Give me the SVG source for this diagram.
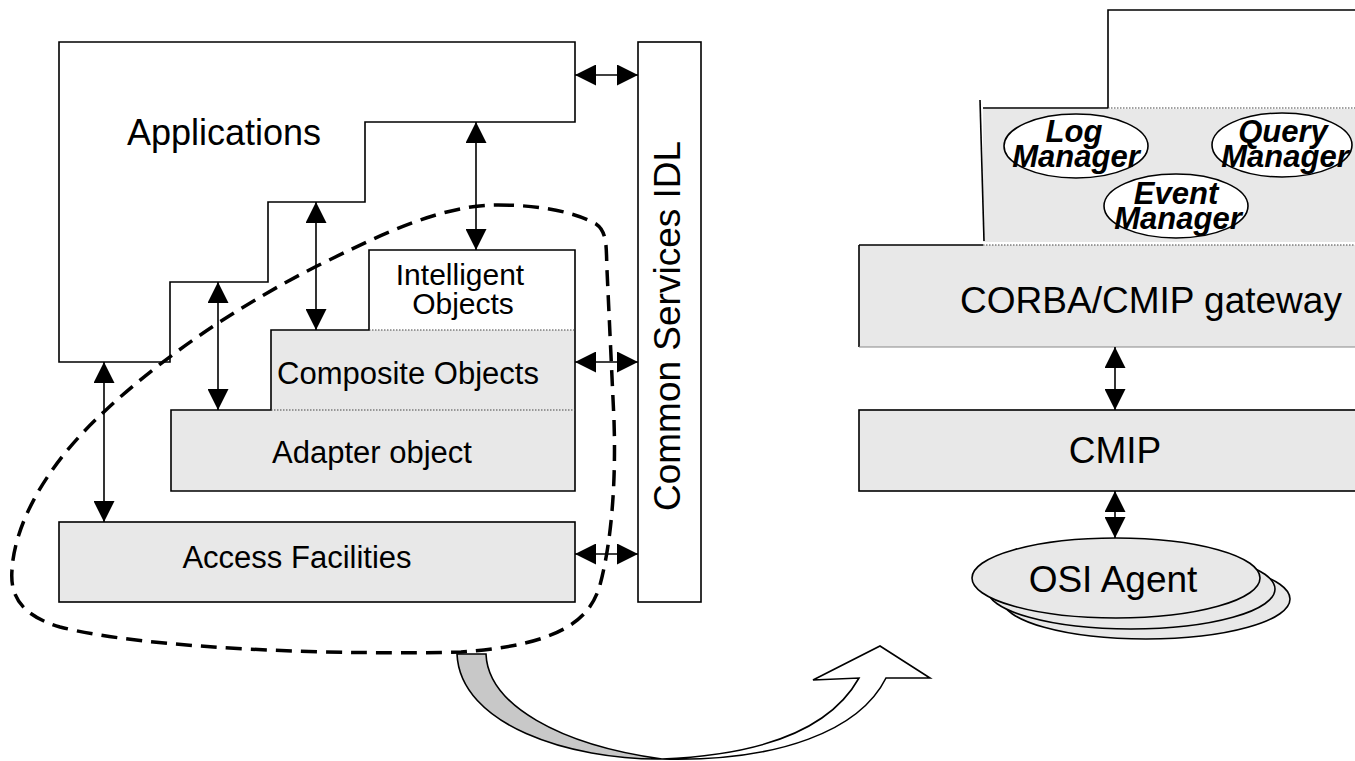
<svg xmlns="http://www.w3.org/2000/svg" width="1355" height="761" viewBox="0 0 1355 761">
<defs>
<style>
.ln{stroke:#000;stroke-width:1.6;fill:none}
.box{stroke:#000;stroke-width:1.6}
.gray{fill:#e8e8e8}
.dot{stroke:#444;stroke-width:1.2;stroke-dasharray:1.5 1.5;fill:none}
.t{font-family:"Liberation Sans",Arial,sans-serif;fill:#000}
.m{font-family:"Liberation Sans",Arial,sans-serif;font-weight:bold;font-style:italic;font-size:31px;text-anchor:middle}
.arr{stroke:#000;stroke-width:1.6;fill:none;marker-start:url(#ah);marker-end:url(#ah)}
</style>
<marker id="ah" markerUnits="userSpaceOnUse" markerWidth="21" markerHeight="21" viewBox="0 0 21 21" refX="21" refY="10.5" orient="auto-start-reverse">
<path d="M0,0 L21,10.5 L0,21 Z" fill="#000"/>
</marker>
</defs>
<rect width="1355" height="761" fill="#fff"/>

<g id="applications">
<path class="box" fill="#fff" d="M59,42 H575 V122 H365 V202 H268 V282 H170 V362 H59 Z"/>
<text class="t" x="127" y="145" font-size="36">Applications</text>
</g>

<g id="common-services">
<rect class="box" fill="#fff" x="638" y="42" width="63" height="560"/>
<text class="t" font-size="37" text-anchor="middle" transform="translate(680,326) rotate(-90)">Common Services IDL</text>
</g>

<g id="object-stack">
<path class="gray" d="M171,410 H271 V330 H575 V491 H171 Z"/>
<rect fill="#fff" x="369" y="250" width="206" height="80"/>
<path class="box" fill="none" d="M171,410 H271 V330 H369 V250 H575 V491 H171 Z"/>
<line class="dot" x1="369" y1="330" x2="575" y2="330"/>
<line class="dot" x1="271" y1="410" x2="575" y2="410"/>
</g>
<g id="intelligent-objects">
<text class="t" x="460" y="285" font-size="30" text-anchor="middle">Intelligent</text>
<text class="t" x="463" y="314" font-size="30" text-anchor="middle">Objects</text>
</g>
<g id="composite-objects">
<text class="t" x="408" y="384" font-size="31" text-anchor="middle">Composite Objects</text>
</g>
<g id="adapter-object">
<text class="t" x="372" y="463" font-size="31" text-anchor="middle">Adapter object</text>
</g>

<g id="access-facilities">
<rect class="box gray" x="59" y="522" width="516" height="80"/>
<text class="t" x="297" y="568" font-size="31" text-anchor="middle">Access Facilities</text>
</g>

<g id="managers-layer">
<rect class="gray" x="983" y="109" width="372" height="133"/>
<path class="ln" d="M1108,108 V10 H1355"/>
<line class="ln" x1="983" y1="108" x2="1108" y2="108"/>
<line class="dot" x1="1108" y1="108" x2="1355" y2="108"/>
<line class="ln" x1="980" y1="100" x2="984" y2="241"/>
</g>
<g id="log-manager">
<ellipse cx="1076" cy="146" rx="72" ry="32" fill="#fff" stroke="#000" stroke-width="1.6"/>
<text class="m" x="1074" y="142">Log</text>
<text class="m" x="1076" y="167">Manager</text>
</g>
<g id="query-manager">
<ellipse cx="1282" cy="145" rx="70" ry="32" fill="#fff" stroke="#000" stroke-width="1.6"/>
<text class="m" x="1283" y="142">Query</text>
<text class="m" x="1285" y="167">Manager</text>
</g>
<g id="event-manager">
<ellipse cx="1176" cy="206" rx="72" ry="32" fill="#fff" stroke="#000" stroke-width="1.6"/>
<text class="m" x="1176" y="204">Event</text>
<text class="m" x="1178" y="229">Manager</text>
</g>

<g id="gateway">
<rect class="gray" x="859" y="245" width="496" height="102"/>
<line class="ln" x1="859" y1="245" x2="983" y2="245"/>
<line class="dot" x1="983" y1="245" x2="1355" y2="245"/>
<line class="ln" x1="859" y1="245" x2="859" y2="347"/>
<line x1="859" y1="347" x2="1355" y2="347" stroke="#888" stroke-width="1.2"/>
<text class="t" x="1151" y="313" font-size="37" text-anchor="middle">CORBA/CMIP gateway</text>
</g>

<g id="cmip">
<rect class="box gray" x="859" y="410" width="500" height="81"/>
<text class="t" x="1115" y="463" font-size="37" text-anchor="middle">CMIP</text>
</g>

<g id="osi-agent">
<ellipse cx="1146" cy="599" rx="144" ry="40" class="box gray"/>
<ellipse cx="1131" cy="589" rx="144" ry="40" class="box gray"/>
<ellipse cx="1116" cy="578" rx="144" ry="40" class="box gray"/>
<text class="t" x="1113" y="592" font-size="37" text-anchor="middle">OSI Agent</text>
</g>

<g id="connectors">
<line class="arr" x1="575" y1="75" x2="638" y2="75"/>
<line class="arr" x1="575" y1="362" x2="638" y2="362"/>
<line class="arr" x1="575" y1="554" x2="638" y2="554"/>
<line class="arr" x1="476" y1="122" x2="476" y2="250"/>
<line class="arr" x1="316" y1="202" x2="316" y2="330"/>
<line class="arr" x1="218" y1="282" x2="218" y2="410"/>
<line class="arr" x1="104" y1="362" x2="104" y2="522"/>
<line class="arr" x1="1115" y1="347" x2="1115" y2="410"/>
<line class="arr" x1="1115" y1="491" x2="1115" y2="538"/>
<path d="M498,205 C540,205 575,212 596,224 C608,232 606,250 607,270 L614,420 C616,480 612,540 600,585 C590,620 560,645 461,652 C350,655 150,650 60,627 C20,615 10,595 12,570 C14,530 40,470 106,410 C170,350 250,300 315,267 C380,235 440,205 498,205 Z" fill="none" stroke="#000" stroke-width="3.5" stroke-dasharray="16 9"/>
<path d="M457,654 L486,654 C488,705 560,745 662,759 C570,760 460,725 457,654 Z" fill="#c8c8c8" stroke="#000" stroke-width="1.6"/>
<path d="M662,759 C780,762 860,730 886,678 L930,678 L880,646 L813,680 L859,678 C830,730 760,755 662,759 Z" fill="#fff" stroke="#000" stroke-width="1.6"/>
</g>
</svg>
